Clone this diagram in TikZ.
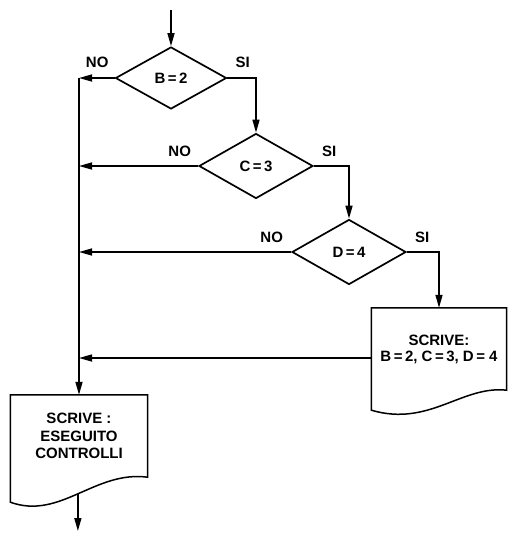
\documentclass[tikz,border=0pt]{standalone}
\usepackage{fontspec}
\setmainfont{Liberation Sans}
\usetikzlibrary{arrows.meta,shapes.geometric,positioning}

\begin{document}
\begin{tikzpicture}[x=1pt,y=-1pt,
  every node/.style={font=\bfseries\fontsize{15}{17.5}\selectfont},
  linie/.style={line width=1.5pt},
  pfeil/.style={linie,-{Triangle[length=13pt,width=7pt]}},
  abfrage/.style={draw,diamond,line width=1.7pt,minimum width=114pt,minimum height=65pt,inner sep=0pt},
  beleg/.style={minimum width=#1,minimum height=82pt,align=center,inner sep=0pt},
  marke/.style={inner sep=0pt}]

% Bildgroesse wie Vorlage
\useasboundingbox (0,0) rectangle (508,533);

% ------------------- Abfragen -------------------
\node[abfrage,minimum width=111pt,minimum height=62pt] (b) at (171,78) {B\,=\,2};
\node[abfrage] (c) at (256,166) {C\,=\,3};
\node[abfrage] (d) at (349,252) {D\,=\,4};

% Beschriftungen
\node[marke,above left=10pt and 6pt of b.west] (bno) {NO};
\node[marke,above right=10pt and 8pt of b.east] (bsi) {SI};
\node[marke,above left=9pt and 7pt of c.west] (cno) {NO};
\node[marke,above right=9pt and 8pt of c.east] (csi) {SI};
\node[marke,above left=9pt and 8pt of d.west] (dno) {NO};
\node[marke,above right=9pt and 8pt of d.east] (dsi) {SI};

% ------------------- Belege -------------------
\node[beleg=135pt] (rbox) at (439,349) {SCRIVE:\\[-1.5pt]B\,=\,2, C\,=\,3, D\,= 4};
\node[beleg=137pt] (lbox) at (79,436) {SCRIVE :\\ESEGUITO\\CONTROLLI};

\draw[linie] (rbox.north west) -- (rbox.north east) -- (rbox.south east)
  .. controls +(-45,-5) and +(58,17) .. ([yshift=-20pt]rbox.south west) -- cycle;
\draw[linie] (lbox.north west) -- (lbox.north east) -- (lbox.south east)
  .. controls +(-53,-7) and +(50,18) .. ([yshift=-25pt]lbox.south west)
  coordinate[pos=0.5] (lwelle) -- cycle;

% ------------------- Verbindungen -------------------
\coordinate (start) at (171,10);
\coordinate (ende) at (78,531);
\coordinate (rein) at ([yshift=-9pt]rbox.west);
\coordinate (knick) at (b.west -| lbox.north);

\draw[pfeil] (b.north |- start) -- (b.north);

% NO
\draw[pfeil] (b.west) -- (knick);
\draw[pfeil] (knick) -- (lbox.north);
\draw[pfeil] (c.west) -- (c.west -| lbox.north);
\draw[pfeil] (d.west) -- (d.west -| lbox.north);
\draw[pfeil] (rein) -- (rein -| lbox.north);

% SI
\draw[pfeil] (b.east) -- (b.east -| c.north) -- (c.north);
\draw[pfeil] (c.east) -- (c.east -| d.north) -- (d.north);
\draw[pfeil] (d.east) -- (d.east -| rbox.north) -- (rbox.north);

\draw[pfeil] (lwelle) -- (lwelle |- ende);

\end{tikzpicture}
\end{document}
